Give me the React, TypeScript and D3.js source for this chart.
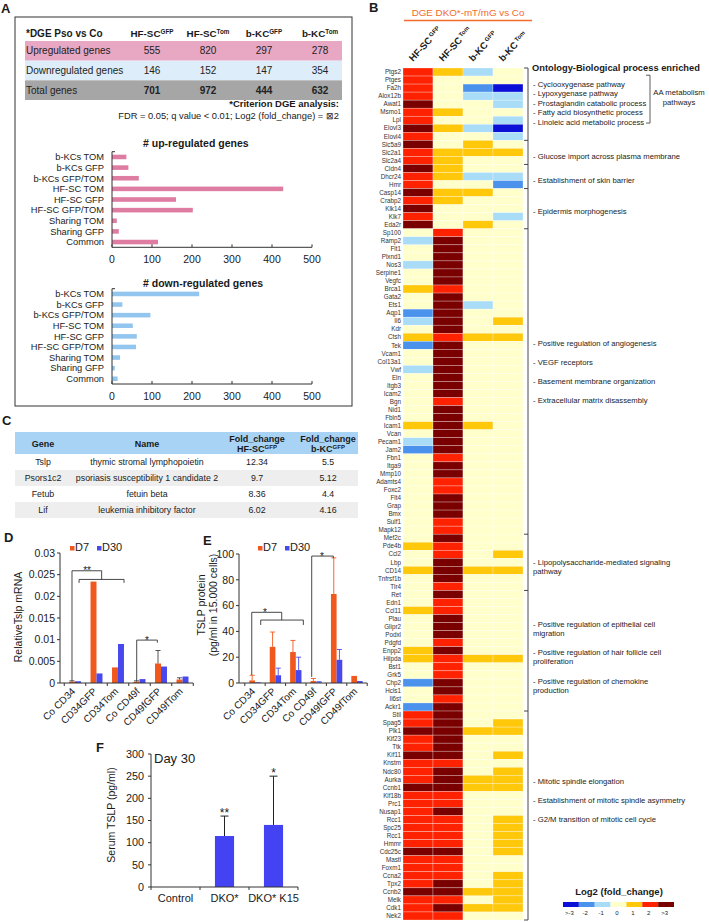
import React from 'react';
import * as d3 from 'd3';

const FONT = '"Liberation Sans", Arial, Helvetica, sans-serif';

// ---- Panel A: DGE summary table ----
const dgeHeads = ['HF-SC', 'HF-SC', 'b-KC', 'b-KC'];
const dgeSups = ['GFP', 'Tom', 'GFP', 'Tom'];
const dgeRows = ['Upregulated genes', 'Downregulated genes', 'Total genes'];
const upregulated = [555, 820, 297, 278];
const downregulated = [146, 152, 147, 354];
const totalGenes = [701, 972, 444, 632];

// ---- Panel A: overlap bar charts ----
const overlapGroups = ['b-KCs TOM', 'b-KCs GFP', 'b-KCs GFP/TOM', 'HF-SC TOM', 'HF-SC GFP', 'HF-SC GFP/TOM', 'Sharing TOM', 'Sharing GFP', 'Common'];
const upCounts = [36, 41, 67, 428, 160, 202, 12, 17, 115];
const downCounts = [218, 26, 96, 52, 62, 60, 20, 7, 14];
const countTicks = [0, 100, 200, 300, 400, 500];

// ---- Panel B: heatmap (log2 fold change classes) ----
const genes = [
  'Ptgs2', 'Ptges', 'Fa2h', 'Alox12b', 'Awat1', 'Msmo1', 'Lpl', 'Elovl3', 'Elovl4', 'Slc5a9',
  'Slc2a1', 'Slc2a4', 'Cldn4', 'Dhcr24', 'Hmr', 'Casp14', 'Crabp2', 'Klk14', 'Klk7', 'Eda2r',
  'Sp100', 'Ramp2', 'Flt1', 'Plxnd1', 'Nos3', 'Serpine1', 'Vegfc', 'Brca1', 'Gata2', 'Ets1',
  'Aqp1', 'Il6', 'Kdr', 'Ctsh', 'Tek', 'Vcam1', 'Col13a1', 'Vwf', 'Eln', 'Itgb3',
  'Icam2', 'Bgn', 'Nid1', 'Fbln5', 'Icam1', 'Vcan', 'Pecam1', 'Jam2', 'Fbn1', 'Itga9',
  'Mmp10', 'Adamts4', 'Foxc2', 'Flt4', 'Grap', 'Bmx', 'Sulf1', 'Mapk12', 'Mef2c', 'Pde4b',
  'Ccl2', 'Lbp', 'CD14', 'Tnfrsf1b', 'Tlr4', 'Ret', 'Edn1', 'Ccl11', 'Plau', 'Glipr2',
  'Podxl', 'Pdgfd', 'Enpp2', 'Hilpda', 'Bst1', 'Grk5', 'Chp2', 'Hcls1', 'Il6st', 'Ackr1',
  'Stil', 'Spag5', 'Plk1', 'Kif23', 'Ttk', 'Kif11', 'Knstm', 'Ndc80', 'Aurka', 'Ccnb1',
  'Kif18b', 'Prc1', 'Nusap1', 'Rcc1', 'Spc25', 'Rcc1', 'Hmmr', 'Cdc25c', 'Mastl', 'Foxm1',
  'Ccna2', 'Tpx2', 'Ccnb2', 'Melk', 'Cdk1', 'Nek2',
];
const hfscGfp = [
  2, 2, 2, 2, 3, 2, 2, 3, 2, 3,
  2, 2, 3, 2, 2, 3, 2, 3, 2, 3,
  0, -1, 0, 0, -1, 0, 0, 1, 0, 0,
  -2, -1, 0, 1, -2, 0, 0, -1, 0, 0,
  0, 0, 0, 0, 1, 0, -1, -2, 0, 0,
  0, 0, 0, 0, 0, 0, 0, 0, 0, 1,
  0, 0, 1, 0, 0, 0, 0, 1, 0, 0,
  0, 0, 1, 1, 0, 0, -2, 0, 0, -2,
  2, 2, 3, 2, 2, 3, 2, 2, 2, 3,
  2, 2, 2, 2, 2, 2, 2, 3, 2, 2,
  2, 2, 3, 2, 2, 2,
];
const hfscTom = [
  1, 0, 0, 0, 0, 1, 0, 1, 0, 0,
  1, 1, 1, 1, 0, 1, 1, 0, 0, 0,
  2, 3, 3, 3, 3, 3, 3, 2, 3, 3,
  3, 3, 3, 2, 3, 3, 3, 3, 3, 3,
  3, 2, 3, 3, 3, 3, 3, 3, 2, 3,
  3, 2, 2, 3, 3, 3, 2, 2, 3, 2,
  2, 3, 3, 3, 2, 3, 2, 2, 3, 3,
  3, 2, 3, 2, 2, 2, 3, 3, 2, 3,
  3, 3, 3, 3, 3, 3, 2, 3, 3, 3,
  2, 2, 3, 2, 2, 2, 2, 3, 2, 2,
  2, 3, 3, 2, 3, 2,
];
const bkcGfp = [
  -1, 0, -2, -1, 0, 0, 0, -1, 0, 1,
  1, 0, 0, -1, 0, 1, 0, 0, 0, 1,
  0, 0, 0, 0, 0, 0, 0, 0, 0, -1,
  0, 0, 0, 1, 0, 0, 0, 0, 0, 0,
  0, 0, 0, 0, 1, 0, 0, 0, 0, 0,
  0, 0, 0, 0, 0, 0, 0, 0, 0, 0,
  0, 0, 1, 0, 0, 0, 0, 0, 0, 0,
  0, 0, 0, 1, 0, 0, 0, 0, 0, 0,
  0, 0, 1, 0, 0, 0, 0, 0, 1, 1,
  0, 0, 0, 0, 0, 0, 0, 0, 0, 0,
  0, 0, 1, 0, 1, 0,
];
const bkcTom = [
  0, 0, -3, -1, -1, 0, -1, -3, -1, 0,
  1, 0, 0, -1, -2, 0, 0, 0, -1, 0,
  0, 0, 0, 0, 0, 0, 0, 0, 0, 0,
  0, 1, 0, 1, 0, 0, 0, 0, 0, 0,
  0, 0, 0, 0, 0, 0, 0, 0, 0, 0,
  0, 0, 0, 0, 0, 0, 0, 0, 0, 0,
  1, 0, 1, 0, 0, 0, 0, 0, 0, 0,
  0, 0, 0, 1, 0, 0, 0, 0, 0, 0,
  0, 1, 1, 0, 0, 1, 0, 1, 1, 1,
  0, 0, 0, 1, 1, 1, 1, 1, 0, 0,
  1, 1, 1, 1, 1, 0,
];
const heatHeads = ['HF-SC', 'HF-SC', 'b-KC', 'b-KC'];
const heatSups = ['GFP', 'Tom', 'GFP', 'Tom'];
const log2Levels = [-3, -2, -1, 0, 1, 2, 3];
const log2Labels = ['>-3', '-2', '-1', '0', '1', '2', '>3'];
const log2Palette = ['#0a10d6', '#4a92ec', '#a9dcf7', '#ffffcc', '#ffc80a', '#ff2200', '#7a0000'];
const termBreaks = [0, 9, 12, 15, 20, 58, 65, 80, 106];
const goTerms = [
  { row: 2, lines: ['- Cyclooxygenase pathway'] },
  { row: 3.1, lines: ['- Lypoxygenase pathway'] },
  { row: 4.35, lines: ['- Prostaglandin catabolic process'] },
  { row: 5.5, lines: ['- Fatty acid biosynthetic process'] },
  { row: 6.7, lines: ['- Linoleic acid metabolic process'] },
  { row: 10.95, lines: ['- Glucose import across plasma membrane'] },
  { row: 13.9, lines: ['- Establishment of skin barrier'] },
  { row: 17.8, lines: ['- Epidermis morphogenesis'] },
  { row: 34.2, lines: ['- Positive regulation of angiogenesis'] },
  { row: 36.6, lines: ['- VEGF receptors'] },
  { row: 38.9, lines: ['- Basement membrane organization'] },
  { row: 41.3, lines: ['- Extracellular matrix disassembly'] },
  { row: 61.4, lines: ['- Lipopolysaccharide-mediated signaling', 'pathway'] },
  { row: 69.15, lines: ['- Positive regulation of epithelial cell', 'migration'] },
  { row: 72.6, lines: ['- Positive regulation of hair follicle cell', 'proliferation'] },
  { row: 76.25, lines: ['- Positive regulation of chemokine', 'production'] },
  { row: 88.7, lines: ['- Mitotic spindle elongation'] },
  { row: 91.05, lines: ['- Establishment of mitotic spindle asymmetry'] },
  { row: 93.4, lines: ['- G2/M transition of mitotic cell cycle'] },
];

// ---- Panel C ----
const cGenes = ['Tslp', 'Psors1c2', 'Fetub', 'Lif'];
const cNames = ['thymic stromal lymphopoietin', 'psoriasis susceptibility 1 candidate 2', 'fetuin beta', 'leukemia inhibitory factor'];
const cFoldHfsc = ['12.34', '9.7', '8.36', '6.02'];
const cFoldBkc = ['5.5', '5.12', '4.4', '4.16'];

// ---- Panels D / E ----
const sortGroups = ['Co CD34', 'CD34GFP', 'CD34Tom', 'Co CD49f', 'CD49fGFP', 'CD49fTom'];
const mrnaD7 = [0.0003, 0.0234, 0.0036, 0.0003, 0.0045, 0.0008];
const mrnaD7Err = [0.0002, 0, 0, 0.0002, 0.003, 0.0004];
const mrnaD30 = [0.0004, 0.0022, 0.009, 0.0009, 0.0038, 0.0015];
const mrnaD30Err = [0, 0, 0, 0, 0, 0];
const mrnaTicks = [0, 0.005, 0.01, 0.015, 0.02, 0.025, 0.03];
const mrnaTickLabels = ['0', '0.005', '0.01', '0.015', '0.02', '0.025', '0.03'];
const proteinD7 = [2, 28, 24, 1.5, 69, 5.5];
const proteinD7Err = [4, 11.5, 9, 2, 28, 0];
const proteinD30 = [0.5, 6, 10, 0.5, 18, 1.5];
const proteinD30Err = [0, 5.5, 10, 0.5, 8, 0];
const proteinTicks = [0, 20, 40, 60, 80, 100];

// ---- Panel F ----
const serumGroups = ['Control', 'DKO*', 'DKO* K15'];
const serumTslp = [0, 115, 140];
const serumErr = [0, 45, 110];
const serumSig = ['', '**', '*'];
const serumTicks = [0, 50, 100, 150, 200, 250, 300];

const ORANGE = '#f0581e';
const BLUE = '#4848ef';
const INK = '#1a1a1a';
const line = d3.line();

function CountChart({ title, counts, color, top, bottom, titleY }) {
  const x = d3.scaleLinear().domain([0, 500]).range([112, 312]);
  const y = d3.scaleBand().domain(overlapGroups).range([top, bottom]).paddingInner(0.57).paddingOuter(0.28);
  return (
    <g>
      <text x={143} y={titleY} fontSize={10.5} fontWeight="bold" fill={INK}>{title}</text>
      {overlapGroups.map((g, i) => (
        <g key={g}>
          <rect x={x(0)} y={y(g)} width={x(counts[i]) - x(0)} height={y.bandwidth()} fill={color} />
          <text x={104} y={y(g) + y.bandwidth() / 2 + 3.3} textAnchor="end" fontSize={9.3} fill="#222">{g}</text>
        </g>
      ))}
      <line x1={x(0)} x2={x(0)} y1={top} y2={bottom} stroke="#333" />
      <line x1={x(0)} x2={x(0) + 3} y1={top} y2={top} stroke="#333" />
      <line x1={x(0)} x2={x(500)} y1={bottom} y2={bottom} stroke="#333" />
      {countTicks.map((t) => (
        <g key={t}>
          <line x1={x(t)} x2={x(t)} y1={bottom} y2={bottom - 3} stroke="#333" />
          <text x={x(t)} y={bottom + 16} textAnchor="middle" fontSize={10.5} fill={INK}>{t}</text>
        </g>
      ))}
    </g>
  );
}

function PanelA() {
  const col = d3.scaleBand().domain(d3.range(4)).range([124, 348]);
  const cx = (i) => col(i) + col.bandwidth() / 2;
  const rowY = d3.scaleBand().domain(dgeRows).range([41, 100]);
  const bands = ['#e8a8c4', '#ddeefa', '#a6a6a6'];
  const rowVals = [upregulated, downregulated, totalGenes];
  return (
    <g>
      <text x={1} y={13} fontSize={13} fontWeight="bold" fill={INK}>A</text>
      <rect x={15} y={17} width={337} height={389} fill="none" stroke="#333" strokeWidth={1} />
      <text x={26} y={37} fontSize={10} fontWeight="bold" fill={INK}>*DGE Pso vs Co</text>
      {dgeHeads.map((h, i) => (
        <text key={i} x={cx(i)} y={37} textAnchor="middle" fontSize={9.8} fontWeight="bold" fill={INK}>
          {h}<tspan fontSize={6.3} dy={-3.5}>{dgeSups[i]}</tspan>
        </text>
      ))}
      {dgeRows.map((r, ri) => (
        <g key={r}>
          <rect x={25} y={rowY(r)} width={317} height={rowY.bandwidth()} fill={bands[ri]} />
          <text x={26} y={rowY(r) + rowY.bandwidth() / 2 + 3.6} fontSize={10} fill="#222">{r}</text>
          {rowVals[ri].map((v, i) => (
            <text key={i} x={cx(i)} y={rowY(r) + rowY.bandwidth() / 2 + 3.6} textAnchor="middle" fontSize={10}
              fontWeight={ri === 2 ? 'bold' : 'normal'} fill="#222">{v}</text>
          ))}
        </g>
      ))}
      <text x={339} y={107} textAnchor="end" fontSize={9.5} fontWeight="bold" fill={INK}>*Criterion DGE analysis:</text>
      <text x={339} y={119} textAnchor="end" fontSize={9.3} fill={INK}>FDR = 0.05; q value &lt; 0.01; Log2 (fold_change) = ⊠2</text>
      <CountChart title="#  up-regulated genes" counts={upCounts} color="#de7ca2" top={151.7} bottom={247.3} titleY={147} />
      <CountChart title="# down-regulated genes" counts={downCounts} color="#93c6ee" top={288.7} bottom={384} titleY={287} />
    </g>
  );
}

function PanelB() {
  const x = d3.scaleBand().domain(d3.range(4)).range([403, 523]);
  const y = d3.scaleBand().domain(d3.range(genes.length)).range([68, 920]);
  const yRow = d3.scaleLinear().domain([0, genes.length]).range([68, 920]);
  const color = d3.scaleOrdinal().domain(log2Levels).range(log2Palette);
  const cols = [hfscGfp, hfscTom, bkcGfp, bkcTom];
  const leg = d3.scaleBand().domain(log2Levels).range([563, 674]);
  return (
    <g>
      <text x={369} y={12} fontSize={13} fontWeight="bold" fill={INK}>B</text>
      <text x={468} y={16} textAnchor="middle" fontSize={9.8} fill="#f26b2a">DGE DKO*-mT/mG vs Co</text>
      <line x1={404} x2={532} y1={20.5} y2={20.5} stroke="#f26b2a" strokeWidth={1.3} />
      {heatHeads.map((h, c) => (
        <text key={c} transform={`translate(${x(c) + x.bandwidth() / 2 - 5},62) rotate(-47)`} fontSize={9.5} fontWeight="bold" fill={INK}>
          {h}<tspan fontSize={6} dx={1.5} dy={-3.5}>{heatSups[c]}</tspan>
        </text>
      ))}
      {cols.map((vals, c) => vals.map((v, i) => (
        <rect key={`${c}-${i}`} x={x(c)} y={y(i)} width={x.bandwidth()} height={y.bandwidth()}
          fill={color(v)} stroke="#ffffff" strokeOpacity={0.55} strokeWidth={0.5} />
      )))}
      {genes.map((g, i) => (
        <text key={i} x={401} y={y(i) + y.bandwidth() / 2 + 2.2} textAnchor="end" fontSize={6.3} fill="#333">{g}</text>
      ))}
      <line x1={528} x2={528} y1={yRow(0)} y2={yRow(genes.length)} stroke="#333" strokeWidth={0.9} />
      {termBreaks.map((b) => (
        <line key={b} x1={524} x2={528} y1={yRow(b)} y2={yRow(b)} stroke="#333" strokeWidth={0.9} />
      ))}
      <text x={532} y={71} fontSize={9.3} fontWeight="bold" fill={INK}>Ontology-Biological process enriched</text>
      {goTerms.map((t, k) => (
        <text key={k} x={533} y={yRow(t.row) + 3} fontSize={7.7} fill="#222">
          {t.lines.map((l, li) => (
            <tspan key={li} x={533} dy={li === 0 ? 0 : 9.3}>{l}</tspan>
          ))}
        </text>
      ))}
      <path d={line([[646, yRow(0.9)], [650, yRow(0.9)], [650, yRow(6.85)], [646, yRow(6.85)]])} fill="none" stroke="#333" strokeWidth={0.8} />
      <text x={679} y={yRow(3.4)} textAnchor="middle" fontSize={7.7} fill="#222">AA metabolism</text>
      <text x={679} y={yRow(4.65)} textAnchor="middle" fontSize={7.7} fill="#222">pathways</text>
      <text x={619} y={895} textAnchor="middle" fontSize={9.5} fontWeight="bold" fill={INK}>Log2 (fold_change)</text>
      {log2Levels.map((lv, i) => (
        <g key={lv}>
          <rect x={leg(lv)} y={902} width={leg.bandwidth()} height={5} fill={color(lv)} />
          <text x={leg(lv) + leg.bandwidth() / 2 - 1.5} y={914.5} textAnchor="middle" fontSize={6} fill="#222">{log2Labels[i]}</text>
        </g>
      ))}
    </g>
  );
}

function PanelC() {
  const rowY = d3.scaleBand().domain(cGenes).range([454, 518]);
  const colX = [43, 147, 257, 328];
  return (
    <g fill={INK}>
      <text x={2} y={425} fontSize={13} fontWeight="bold">C</text>
      <rect x={15} y={432} width={343} height={22} fill="#a8d3f4" />
      <text x={colX[0]} y={446.5} textAnchor="middle" fontSize={9} fontWeight="bold">Gene</text>
      <text x={colX[1]} y={446.5} textAnchor="middle" fontSize={9} fontWeight="bold">Name</text>
      <text x={colX[2]} y={441.5} textAnchor="middle" fontSize={9} fontWeight="bold">Fold_change</text>
      <text x={colX[2]} y={451.5} textAnchor="middle" fontSize={9} fontWeight="bold">HF-SC<tspan fontSize={6} dy={-3}>GFP</tspan></text>
      <text x={colX[3]} y={441.5} textAnchor="middle" fontSize={9} fontWeight="bold">Fold_change</text>
      <text x={colX[3]} y={451.5} textAnchor="middle" fontSize={9} fontWeight="bold">b-KC<tspan fontSize={6} dy={-3}>GFP</tspan></text>
      {cGenes.map((g, i) => {
        const yc = rowY(g) + rowY.bandwidth() / 2 + 3.2;
        return (
          <g key={g}>
            {i % 2 === 1 && <rect x={15} y={rowY(g)} width={343} height={rowY.bandwidth()} fill="#eeeeee" />}
            <text x={colX[0]} y={yc} textAnchor="middle" fontSize={8.8}>{g}</text>
            <text x={colX[1]} y={yc} textAnchor="middle" fontSize={8.8}>{cNames[i]}</text>
            <text x={colX[2]} y={yc} textAnchor="middle" fontSize={8.8}>{cFoldHfsc[i]}</text>
            <text x={colX[3]} y={yc} textAnchor="middle" fontSize={8.8}>{cFoldBkc[i]}</text>
          </g>
        );
      })}
    </g>
  );
}

function GroupedBars({ d7, d7Err, d30, d30Err, yMax, ticks, tickLabels, axisX, bandStart, bandEnd, yTop, yBottom, errColored, children }) {
  const x = d3.scaleBand().domain(sortGroups).range([bandStart, bandEnd]);
  const inner = d3.scaleBand().domain(['D7', 'D30']).range([0, x.bandwidth()]).paddingOuter(0.8);
  const y = d3.scaleLinear().domain([0, yMax]).range([yBottom, yTop]);
  const gx = d3.scaleLinear().domain([0, sortGroups.length]).range([bandStart, bandEnd]);
  const series = [
    { key: 'D7', vals: d7, errs: d7Err, color: ORANGE },
    { key: 'D30', vals: d30, errs: d30Err, color: BLUE },
  ];
  return (
    <g>
      {series.map((s) => sortGroups.map((g, i) => {
        const bx = x(g) + inner(s.key);
        const cxm = bx + inner.bandwidth() / 2;
        const err = s.errs[i];
        const ec = errColored ? s.color : '#444';
        return (
          <g key={`${s.key}-${g}`}>
            <rect x={bx} y={y(s.vals[i])} width={inner.bandwidth()} height={y(0) - y(s.vals[i])} fill={s.color} />
            {err > 0 && (
              <g stroke={ec} strokeWidth={0.9}>
                <line x1={cxm} x2={cxm} y1={y(s.vals[i])} y2={y(s.vals[i] + err)} />
                <line x1={cxm - 2.5} x2={cxm + 2.5} y1={y(s.vals[i] + err)} y2={y(s.vals[i] + err)} />
              </g>
            )}
          </g>
        );
      }))}
      <line x1={axisX} x2={axisX} y1={yTop} y2={yBottom} stroke="#333" />
      <line x1={axisX} x2={bandEnd} y1={yBottom} y2={yBottom} stroke="#333" />
      {ticks.map((t, i) => (
        <g key={t}>
          <line x1={axisX - 3} x2={axisX} y1={y(t)} y2={y(t)} stroke="#333" />
          <text x={axisX - 5} y={y(t) + 3.7} textAnchor="end" fontSize={10.5} fill={INK}>{tickLabels[i]}</text>
        </g>
      ))}
      {d3.range(sortGroups.length + 1).map((i) => (
        <line key={i} x1={gx(i)} x2={gx(i)} y1={yBottom} y2={yBottom + 3} stroke="#333" />
      ))}
      {sortGroups.map((g) => (
        <text key={g} transform={`translate(${x(g) + x.bandwidth() / 2 + 1},${yBottom + 9}) rotate(-45)`} textAnchor="end" fontSize={10} fill={INK}>{g}</text>
      ))}
      {children(gx, y)}
    </g>
  );
}

function Legend({ x0 }) {
  return (
    <g fontSize={11} fill={INK}>
      <rect x={x0} y={546} width={4.5} height={4.5} fill={ORANGE} />
      <text x={x0 + 5} y={551}>D7</text>
      <rect x={x0 + 27} y={546} width={4.5} height={4.5} fill={BLUE} />
      <text x={x0 + 32} y={551}>D30</text>
    </g>
  );
}

function Bracket({ pts }) {
  return <path d={line(pts)} fill="none" stroke="#333" strokeWidth={0.9} />;
}

function PanelD() {
  return (
    <g>
      <text x={4} y={542} fontSize={13} fontWeight="bold" fill={INK}>D</text>
      <Legend x0={70} />
      <text transform="translate(22,617) rotate(-90)" textAnchor="middle" fontSize={10.5} fill={INK}>RelativeTslp mRNA</text>
      <GroupedBars d7={mrnaD7} d7Err={mrnaD7Err} d30={mrnaD30} d30Err={mrnaD30Err} yMax={0.03}
        ticks={mrnaTicks} tickLabels={mrnaTickLabels} axisX={60} bandStart={64.25} bandEnd={193.25}
        yTop={553} yBottom={683} errColored={false}>
        {(gx, y) => (
          <g>
            <Bracket pts={[[gx(0.36), y(0.0005)], [gx(0.36), y(0.0259)], [gx(1.74), y(0.0259)], [gx(1.74), y(0.0239)]]} />
            <Bracket pts={[[gx(0.69), y(0.0231)], [gx(0.69), y(0.0239)], [gx(2.78), y(0.0239)], [gx(2.78), y(0.0231)]]} />
            <Bracket pts={[[gx(3.37), y(0.0005)], [gx(3.37), y(0.0099)], [gx(4.33), y(0.0099)], [gx(4.33), y(0.0093)]]} />
            <text x={gx(1.06)} y={y(0.0259) + 3.5} textAnchor="middle" fontSize={10} fill={INK}>**</text>
            <text x={gx(3.85)} y={y(0.0099) + 3.5} textAnchor="middle" fontSize={10} fill={INK}>*</text>
          </g>
        )}
      </GroupedBars>
    </g>
  );
}

function PanelE() {
  return (
    <g>
      <text x={203} y={545} fontSize={13} fontWeight="bold" fill={INK}>E</text>
      <Legend x0={258} />
      <text transform="translate(205,605) rotate(-90)" textAnchor="middle" fontSize={10.5} fill={INK}>TSLP  protein</text>
      <text transform="translate(216.5,605) rotate(-90)" textAnchor="middle" fontSize={10.5} fill={INK}>(pg/ml in 15.000 cells)</text>
      <GroupedBars d7={proteinD7} d7Err={proteinD7Err} d30={proteinD30} d30Err={proteinD30Err} yMax={100}
        ticks={proteinTicks} tickLabels={proteinTicks.map(String)} axisX={239} bandStart={244.8} bandEnd={367.2}
        yTop={554} yBottom={683} errColored={true}>
        {(gx, y) => (
          <g>
            <Bracket pts={[[gx(0.34), y(6.2)], [gx(0.34), y(54.8)], [gx(1.81), y(54.8)], [gx(1.81), y(48.8)]]} />
            <Bracket pts={[[gx(0.78), y(45)], [gx(0.78), y(48.8)], [gx(2.87), y(48.8)], [gx(2.87), y(45)]]} />
            <Bracket pts={[[gx(3.28), y(4.7)], [gx(3.28), y(98.4)], [gx(4.34), y(98.4)], [gx(4.34), y(97)]]} />
            <text x={gx(0.99)} y={y(54.8) + 3.5} textAnchor="middle" fontSize={10} fill={INK}>*</text>
            <text x={gx(3.78)} y={y(98.4) + 3.5} textAnchor="middle" fontSize={10} fill={INK}>*</text>
          </g>
        )}
      </GroupedBars>
    </g>
  );
}

function PanelF() {
  const x = d3.scaleBand().domain(serumGroups).range([151, 298]).paddingInner(0.61).paddingOuter(0.305);
  const y = d3.scaleLinear().domain([0, 300]).range([887, 754]);
  const edges = d3.scaleLinear().domain([0, serumGroups.length]).range([151, 298]);
  return (
    <g fill={INK}>
      <text x={96} y={752} fontSize={13} fontWeight="bold">F</text>
      <text x={154} y={763} fontSize={13}>Day 30</text>
      <text transform="translate(115,815) rotate(-90)" textAnchor="middle" fontSize={10.5}>Serum TSLP  (pg/ml)</text>
      {serumGroups.map((g, i) => {
        const cx = x(g) + x.bandwidth() / 2;
        const top = y(serumTslp[i] + serumErr[i]);
        return (
          <g key={g}>
            {serumTslp[i] > 0 && <rect x={x(g)} y={y(serumTslp[i])} width={x.bandwidth()} height={y(0) - y(serumTslp[i])} fill="#4343f3" />}
            {serumErr[i] > 0 && (
              <g stroke="#222" strokeWidth={1}>
                <line x1={cx} x2={cx} y1={y(serumTslp[i])} y2={top} />
                <line x1={cx - 4} x2={cx + 4} y1={top} y2={top} />
              </g>
            )}
            {serumSig[i] && <text x={cx} y={top + 1} textAnchor="middle" fontSize={12}>{serumSig[i]}</text>}
            <text x={cx} y={902} textAnchor="middle" fontSize={11}>{g}</text>
          </g>
        );
      })}
      <line x1={151} x2={151} y1={754} y2={887} stroke="#333" />
      <line x1={151} x2={298} y1={887} y2={887} stroke="#333" />
      {d3.range(serumGroups.length + 1).map((i) => (
        <line key={i} x1={edges(i)} x2={edges(i)} y1={887} y2={890} stroke="#333" />
      ))}
      {serumTicks.map((t) => (
        <g key={t}>
          <line x1={148} x2={151} y1={y(t)} y2={y(t)} stroke="#333" />
          <text x={144} y={y(t) + 3.8} textAnchor="end" fontSize={10.8}>{t}</text>
        </g>
      ))}
    </g>
  );
}

export default function App() {
  return (
    <div style={{ position: 'absolute', left: 0, top: 0, width: 709, height: 922, background: '#fff' }}>
      <svg width={709} height={922} viewBox="0 0 709 922" style={{ display: 'block', fontFamily: FONT }}>
        <rect width={709} height={922} fill="#fff" />
        <PanelA />
        <PanelB />
        <PanelC />
        <PanelD />
        <PanelE />
        <PanelF />
      </svg>
    </div>
  );
}
